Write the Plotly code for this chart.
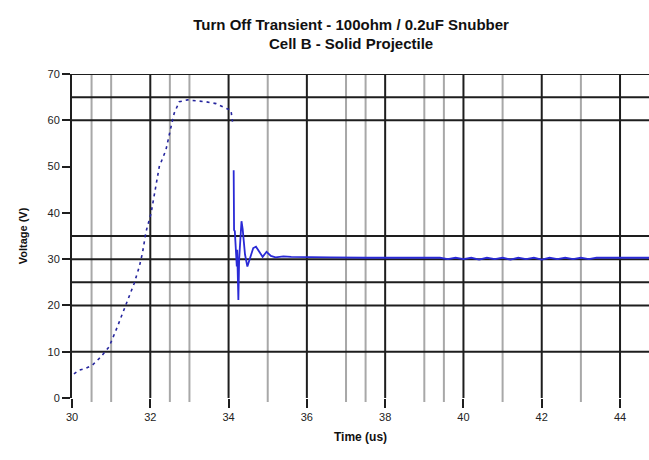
import plotly.graph_objects as go

# ---------------- data ----------------
rise_time = [30.05, 30.18, 30.35, 30.52, 30.74, 30.95, 31.16, 31.38, 31.59, 31.72,
             31.80, 31.89, 32.02, 32.23, 32.40, 32.53, 32.61, 32.74, 32.95, 33.42,
             33.68, 33.93, 34.06, 34.10]
rise_volt = [5.2, 6.0, 6.4, 7.1, 8.9, 11.1, 15.4, 20.1, 24.8, 28.4,
             31.3, 35.9, 39.9, 50.0, 53.6, 58.6, 61.5, 64.0, 64.4, 64.0,
             63.6, 62.6, 62.2, 59.7]

ring_time = [34.13, 34.14, 34.16, 34.21, 34.22, 34.25, 34.27, 34.33, 34.36, 34.42,
             34.48, 34.55, 34.63, 34.70, 34.78, 34.87, 34.97, 35.08, 35.20, 35.40,
             35.60, 35.90, 36.20, 36.60, 37.50, 38.50, 39.40, 39.60, 39.80, 40.00,
             40.20, 40.40, 40.60, 40.80, 41.00, 41.20, 41.40, 41.60, 41.80, 42.00,
             42.20, 42.40, 42.60, 42.80, 43.00, 43.20, 43.40, 44.00, 44.74]
ring_volt = [49.2, 36.3, 36.0, 28.4, 32.0, 21.2, 30.0, 38.2, 36.5, 31.0,
             28.4, 30.5, 32.4, 32.7, 31.6, 30.5, 31.6, 30.7, 30.4, 30.6,
             30.5, 30.5, 30.4, 30.4, 30.3, 30.3, 30.3, 30.0, 30.3, 30.0,
             30.3, 29.9, 30.3, 30.0, 30.3, 29.9, 30.3, 30.0, 30.3, 29.9,
             30.3, 30.0, 30.3, 30.0, 30.3, 30.0, 30.3, 30.3, 30.3]

x_ticks = [30, 32, 34, 36, 38, 40, 42, 44]
x_tick_labels = ["30", "32", "34", "36", "38", "40", "42", "44"]
y_ticks = [0, 10, 20, 30, 40, 50, 60, 70]
y_tick_labels = ["0", "10", "20", "30", "40", "50", "60", "70"]

major_x_grid = [32, 34, 36, 38, 40, 42, 44]
minor_x_grid = [30.5, 31, 32.5, 33, 35, 37, 37.5, 39, 39.5, 41, 43]
y_grid = [10, 20, 25, 30, 35, 60, 65, 70]

X_RANGE = [30, 44.74]
Y_RANGE = [0, 70]

# ---------------- figure ----------------
fig = go.Figure()

fig.add_trace(go.Scatter(x=rise_time, y=rise_volt, mode="lines",
                         line=dict(color="#25259e", width=1.6, dash="3px,4px"),
                         showlegend=False))
fig.add_trace(go.Scatter(x=ring_time, y=ring_volt, mode="lines",
                         line=dict(color="#2a2ad6", width=1.8),
                         showlegend=False))

shapes = []
for gx in minor_x_grid:
    shapes.append(dict(type="line", xref="x", yref="paper", x0=gx, x1=gx,
                       y0=-0.012, y1=1, layer="below",
                       line=dict(color="#a8a8a8", width=2)))
for gx in major_x_grid:
    shapes.append(dict(type="line", xref="x", yref="paper", x0=gx, x1=gx,
                       y0=0, y1=1, layer="below",
                       line=dict(color="#1e1e1e", width=2)))
for gy in y_grid:
    shapes.append(dict(type="line", xref="paper", yref="y", x0=0, x1=1,
                       y0=gy, y1=gy, layer="below",
                       line=dict(color="#1e1e1e", width=2)))

fig.update_layout(
    width=649, height=460,
    margin=dict(l=72, r=0, t=74, b=62),
    paper_bgcolor="white", plot_bgcolor="white",
    shapes=shapes,
    title=dict(text="<b>Turn Off Transient - 100ohm / 0.2uF Snubber<br>Cell B - Solid Projectile</b>",
               x=0.541, xanchor="center", xref="container",
               y=0.935, yanchor="top", yref="container",
               font=dict(family="Liberation Sans, Arial", size=15, color="#111")),
    font=dict(family="Liberation Sans, Arial", color="#111"),
)

fig.update_xaxes(range=X_RANGE, showgrid=False, zeroline=False, showline=False,
                 tickmode="array", tickvals=x_ticks, ticktext=x_tick_labels,
                 ticks="outside", ticklen=9, tickwidth=2, tickcolor="#1e1e1e",
                 tickfont=dict(size=11, color="#222"),
                 title=dict(text="<b>Time (us)</b>", font=dict(size=12, color="#111"),
                            standoff=10))
fig.update_yaxes(range=Y_RANGE, showgrid=False, zeroline=False,
                 showline=True, linecolor="#1e1e1e", linewidth=2,
                 tickmode="array", tickvals=y_ticks, ticktext=y_tick_labels,
                 ticks="outside", ticklen=8, tickwidth=2, tickcolor="#1e1e1e",
                 tickfont=dict(size=11, color="#222"),
                 title=dict(text="<b>Voltage (V)</b>", font=dict(size=11, color="#111"),
                            standoff=18))

fig.write_html("out.html")
